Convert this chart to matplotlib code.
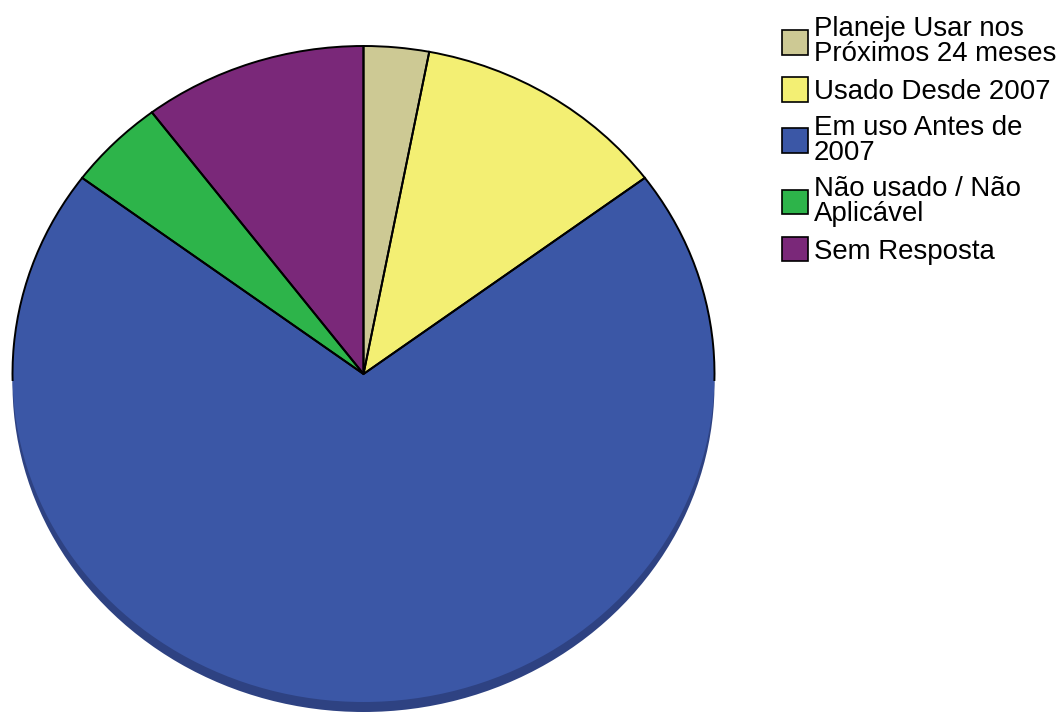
import matplotlib
matplotlib.use("Agg")
import matplotlib.pyplot as plt
from matplotlib.patches import Patch, Polygon

labels = ["Planeje Usar nos\nPróximos 24 meses", "Usado Desde 2007", "Em uso Antes de\n2007",
          "Não usado / Não\nAplicável", "Sem Resposta"]
values = [3.0, 11.8, 70.4, 4.5, 10.3]
colors = ["#cdc994", "#f3ef73", "#3b57a6", "#2db44a", "#7a2879"]
rim_colors = ["#8f8c67", "#aaa750", "#2e4282", "#1f7e34", "#551c55"]

plt.rcParams['font.family'] = ['Liberation Sans', 'DejaVu Sans']

fig = plt.figure(figsize=(10.61, 7.13), dpi=100)
W, H = 1061, 713
ax = fig.add_axes([12.5 / W, (H - 702) / H, 702 / W, 656 / H])

depth = 10 / 328.0  # rim thickness in data units
rim, _ = ax.pie(values, colors=rim_colors, startangle=90, counterclock=False,
                radius=1, center=(0, -depth), frame=True,
                wedgeprops=dict(linewidth=0, zorder=1))
# top face fill
faces, _ = ax.pie(values, colors=colors, startangle=90, counterclock=False,
                  radius=1, center=(0, 0), frame=True,
                  wedgeprops=dict(linewidth=0, zorder=2))
# outlines: only on the upper part (lower edge blends into the rim)
outlines, _ = ax.pie(values, colors=colors, startangle=90, counterclock=False,
                     radius=1, center=(0, 0), frame=True,
                     wedgeprops=dict(edgecolor='black', linewidth=1.4, zorder=3))
upper = Polygon([(-2, -0.02), (2, -0.02), (2, 2), (-2, 2)], closed=True,
                transform=ax.transData)
for w in outlines:
    w.set_facecolor('none')
    w.set_clip_on(True)
    w.set_clip_path(upper)
    w.set_clip_box(None)
for w in list(rim) + list(faces):
    w.set_clip_on(False)
ax.set_aspect('auto')
ax.set_xlim(-1, 1)
ax.set_ylim(-1, 1)
ax.axis('off')

handles = [Patch(facecolor=c, edgecolor='black', linewidth=1.2) for c in colors]
leg = fig.legend(handles, labels, loc='upper left', bbox_to_anchor=(782 / W, 1 - 16 / H),
                 frameon=False, fontsize=19.9, borderpad=0, borderaxespad=0,
                 handlelength=0.94, handleheight=1.0, handletextpad=0.22,
                 labelspacing=0.35)
for t in leg.get_texts():
    t.set_linespacing(0.97)

fig.savefig("out.png", dpi=100)
